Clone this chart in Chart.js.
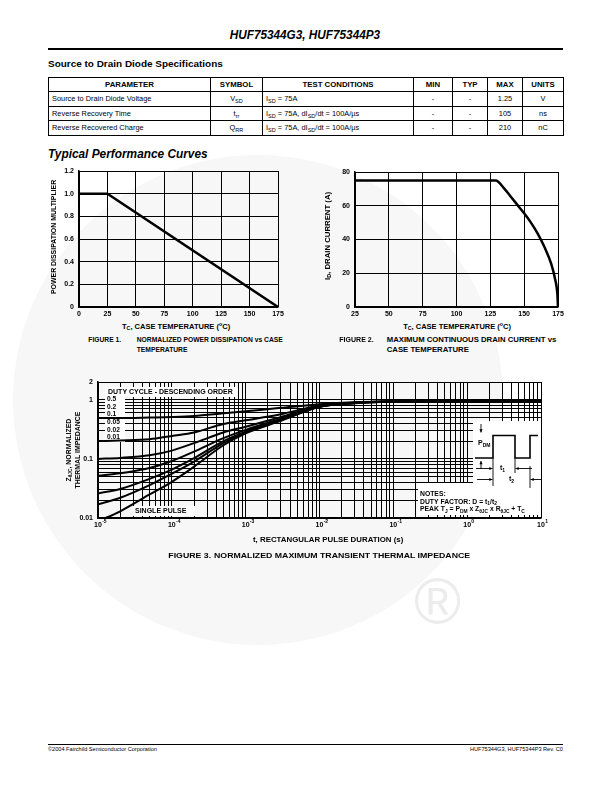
<!DOCTYPE html>
<html>
<head>
<meta charset="utf-8">
<title>HUF75344G3, HUF75344P3</title>
<script src="https://cdn.jsdelivr.net/npm/chart.js@4.4.1/dist/chart.umd.min.js"></script>
<style>
  html, body { margin: 0; padding: 0; background: #fff; }
  body { position: relative; width: 611px; height: 792px; overflow: hidden;
         font-family: 'Liberation Sans', Arial, Helvetica, sans-serif; color: #000; }
  .wm  { position: absolute; left: 13px; top: 155px; width: 490px; height: 490px;
         border-radius: 50%; background: #f7f7f7; }
  .reg { position: absolute; left: 414px; top: 569px; font-size: 64px; line-height: 1; color: #ececec; }
  canvas { position: absolute; }
  .tx { position: absolute; left: 0; top: 0; white-space: nowrap; line-height: 1;
        font-weight: bold; transform-origin: 0 0; }
  .tx sub, .tx sup { font-size: 70%; line-height: 0; }
  .tx sub { vertical-align: -0.25em; }
  .tx sup { vertical-align: 0.5em; }
  .it { font-style: italic; }
  .nb { font-weight: normal; }
  .rule { position: absolute; background: #000; }

  table.spec { position: absolute; left: 48px; top: 77px; width: 515px;
               border-collapse: collapse; table-layout: fixed; font-size: 7.4px;
               border: 1.5px solid #000; }
  table.spec th, table.spec td { border: 1px solid #000; padding: 0 3px; white-space: nowrap; line-height: 1; }
  table.spec th { font-weight: bold; font-size: 7.8px; text-align: center; height: 13px; }
  table.spec td { height: 13.5px; text-align: center; }
  table.spec td.l { text-align: left; }
  table.spec sub { font-size: 75%; vertical-align: -0.3em; line-height: 0; }
</style>
</head>
<body>
<div class="wm"></div>
<div class="reg">&reg;</div>

<!-- page header -->
<div class="tx it" style="font-size:12px" data-x="304.7" data-y="35" data-al="c" data-w="150">HUF75344G3, HUF75344P3</div>
<div class="rule" style="left:48px; top:48px; width:515px; height:1.5px"></div>
<div class="tx" style="font-size:9.5px" data-x="48" data-y="64" data-w="175">Source to Drain Diode Specifications</div>

<table class="spec">
  <colgroup>
    <col style="width:162px"><col style="width:52px"><col style="width:151px">
    <col style="width:39px"><col style="width:35px"><col style="width:35px"><col style="width:41px">
  </colgroup>
  <tr><th>PARAMETER</th><th>SYMBOL</th><th>TEST CONDITIONS</th><th>MIN</th><th>TYP</th><th>MAX</th><th>UNITS</th></tr>
  <tr><td class="l">Source to Drain Diode Voltage</td><td>V<sub>SD</sub></td><td class="l">I<sub>SD</sub> = 75A</td><td>-</td><td>-</td><td>1.25</td><td>V</td></tr>
  <tr><td class="l">Reverse Recovery Time</td><td>t<sub>rr</sub></td><td class="l">I<sub>SD</sub> = 75A, dI<sub>SD</sub>/dt = 100A/&micro;s</td><td>-</td><td>-</td><td>105</td><td>ns</td></tr>
  <tr><td class="l">Reverse Recovered Charge</td><td>Q<sub>RR</sub></td><td class="l">I<sub>SD</sub> = 75A, dI<sub>SD</sub>/dt = 100A/&micro;s</td><td>-</td><td>-</td><td>210</td><td>nC</td></tr>
</table>

<div class="tx it" style="font-size:12px" data-x="48" data-y="154" data-w="160">Typical Performance Curves</div>

<!-- figure 1 -->
<canvas id="fig1" width="250" height="160" style="left:40px; top:160px"></canvas>
<div class="tx" style="font-size:6.8px" data-x="54.5" data-y="237" data-al="c" data-rot="1" data-w="114">POWER DISSIPATION MULTIPLIER</div>
<div class="tx" style="font-size:7.4px" data-x="176" data-y="326.5" data-al="c" data-w="108">T<sub>C</sub>, CASE TEMPERATURE (<sup>o</sup>C)</div>
<div class="tx" style="font-size:7.8px" data-x="88.3" data-y="339.5" data-s="0.86">FIGURE 1.</div>
<div class="tx" style="font-size:7.8px" data-x="136.7" data-y="339.5" data-w="146" id="cap1">NORMALIZED POWER DISSIPATION vs CASE</div>
<div class="tx" style="font-size:7.8px" data-x="136.7" data-y="349.5" data-like="cap1">TEMPERATURE</div>

<!-- figure 2 -->
<canvas id="fig2" width="250" height="160" style="left:320px; top:160px"></canvas>
<div class="tx" style="font-size:7.6px" data-x="327.5" data-y="236" data-al="c" data-rot="1" data-w="88">I<sub>D</sub>, DRAIN CURRENT (A)</div>
<div class="tx" style="font-size:7.4px" data-x="457" data-y="326" data-al="c" data-w="107.7">T<sub>C</sub>, CASE TEMPERATURE (<sup>o</sup>C)</div>
<div class="tx" style="font-size:7.8px" data-x="339.3" data-y="339.5" data-s="0.9">FIGURE 2.</div>
<div class="tx" style="font-size:7.8px" data-x="386.7" data-y="339.5" data-w="170" id="cap2">MAXIMUM CONTINUOUS DRAIN CURRENT vs</div>
<div class="tx" style="font-size:7.8px" data-x="386.7" data-y="349.5" data-like="cap2">CASE TEMPERATURE</div>

<!-- figure 3 -->
<canvas id="fig3" width="520" height="165" style="left:40px; top:372px"></canvas>
<div class="tx" style="font-size:6.9px" data-x="69.5" data-y="450" data-al="c" data-rot="1">Z<sub>&theta;JC</sub>, NORMALIZED</div>
<div class="tx" style="font-size:6.9px" data-x="78" data-y="450" data-al="c" data-rot="1">THERMAL IMPEDANCE</div>
<div class="tx" style="font-size:7.6px" data-x="328" data-y="540" data-al="c" data-w="150">t, RECTANGULAR PULSE DURATION (s)</div>
<div class="tx" style="font-size:7.8px" data-x="214" data-y="555.5" data-w="256" id="cap3">NORMALIZED MAXIMUM TRANSIENT THERMAL IMPEDANCE</div>
<div class="tx" style="font-size:7.8px" data-x="168.3" data-y="555.5" data-like="cap3">FIGURE 3.</div>

<!-- footer -->
<div class="rule" style="left:48px; top:744px; width:515px; height:1.2px"></div>
<div class="tx nb" style="font-size:5.6px" data-x="48" data-y="749.5">&copy;2004 Fairchild Semiconductor Corporation</div>
<div class="tx nb" style="font-size:5.6px" data-x="563" data-y="749.5" data-al="r">HUF75344G3, HUF75344P3 Rev. C0</div>

<script>
// ── Dados ───────────────────────────────────────────────
// Fig. 1: multiplicador de potência vs TC
var FIG1_TC   = [0, 25, 175];
var FIG1_MULT = [1.0, 1.0, 0.0];

// Fig. 2: corrente de dreno máxima vs TC
var FIG2_TC = [25, 129, 135, 140, 145, 150, 155, 160, 165, 170, 173, 174.5, 175];
var FIG2_ID = [75, 75, 70.5, 65.5, 60.5, 55.5, 50, 43.5, 35.5, 25.5, 16, 8, 0];

// Fig. 3: impedância térmica transiente normalizada
var FIG3_T   = [1e-5, 2e-5, 5e-5, 1e-4, 2e-4, 5e-4, 1e-3, 3e-3, 1e-2, 3e-2, 1e-1, 1, 10];
var Z_D050   = [0.49, 0.49, 0.50, 0.51, 0.53, 0.59, 0.64, 0.73, 0.84, 0.91, 0.94, 0.96, 0.96];
var Z_D020   = [0.20, 0.205, 0.215, 0.245, 0.28, 0.39, 0.45, 0.57, 0.80, 0.90, 0.94, 0.96, 0.96];
var Z_D010   = [0.10, 0.104, 0.115, 0.138, 0.185, 0.28, 0.35, 0.51, 0.78, 0.89, 0.935, 0.96, 0.96];
var Z_D005   = [0.052, 0.057, 0.07, 0.092, 0.133, 0.225, 0.31, 0.48, 0.77, 0.885, 0.935, 0.96, 0.96];
var Z_D002   = [0.026, 0.031, 0.046, 0.066, 0.103, 0.20, 0.29, 0.46, 0.765, 0.88, 0.93, 0.96, 0.96];
var Z_D001   = [0.017, 0.022, 0.036, 0.056, 0.09, 0.185, 0.28, 0.45, 0.76, 0.88, 0.93, 0.96, 0.96];
var Z_SINGLE = [0.0088, 0.013, 0.025, 0.041, 0.074, 0.17, 0.27, 0.44, 0.76, 0.875, 0.93, 0.96, 0.96];
var FIG3_SERIES = [Z_D050, Z_D020, Z_D010, Z_D005, Z_D002, Z_D001, Z_SINGLE];
var FIG3_DUTY   = ['0.5', '0.2', '0.1', '0.05', '0.02', '0.01'];

// Escalas / rótulos
var FIG3_X_DECADES = [-5, -4, -3, -2, -1, 0, 1];
var FIG3_Y_LABELS  = [0.01, 0.1, 1, 2];

var FONTE = "'Liberation Sans', Arial, Helvetica, sans-serif";
Chart.defaults.font.family = FONTE;
Chart.defaults.font.size   = 7;
Chart.defaults.font.weight = 'bold';
Chart.defaults.color       = '#000';

function pares(xs, ys) {
  var out = [];
  for (var i = 0; i < xs.length; i++) out.push({ x: xs[i], y: ys[i] });
  return out;
}

function linha(xs, ys, w) {
  return { data: pares(xs, ys), borderColor: '#000', borderWidth: w, pointRadius: 0,
           fill: false, cubicInterpolationMode: 'monotone' };
}

function grade() { return { color: '#000', lineWidth: 1, drawTicks: false }; }
function borda() { return { color: '#000', width: 1.5 }; }

function opcoesBase(pad) {
  return {
    responsive: false, animation: false, devicePixelRatio: 1, events: [],
    layout: { padding: pad },
    plugins: { legend: { display: false }, tooltip: { enabled: false } }
  };
}

// ── FIGURA 1 ────────────────────────────────────────────
var op1 = opcoesBase({ top: 11, right: 12, bottom: 0, left: 0 });
op1.scales = {
  x: { type: 'linear', min: 0, max: 175, grid: grade(), border: borda(),
       ticks: { stepSize: 25, padding: 3, maxRotation: 0, autoSkip: false },
       afterFit: function(s) { s.height = 13; } },
  y: { type: 'linear', min: 0, max: 1.2, grid: grade(), border: borda(),
       ticks: { stepSize: 0.2, padding: 5, autoSkip: false,
                callback: function(v) { return v === 0 ? '0' : v.toFixed(1); } },
       afterFit: function(s) { s.width = 39; } }
};
new Chart(document.getElementById('fig1'), {
  type: 'line',
  data: { datasets: [Object.assign(linha(FIG1_TC, FIG1_MULT, 2.5), { cubicInterpolationMode: 'default', tension: 0 })] },
  options: op1
});

// ── FIGURA 2 ────────────────────────────────────────────
var op2 = opcoesBase({ top: 12, right: 12, bottom: 0, left: 0 });
op2.scales = {
  x: { type: 'linear', min: 25, max: 175, grid: grade(), border: borda(),
       ticks: { stepSize: 25, padding: 3, maxRotation: 0, autoSkip: false },
       afterFit: function(s) { s.height = 13; } },
  y: { type: 'linear', min: 0, max: 80, grid: grade(), border: borda(),
       ticks: { stepSize: 20, padding: 5, autoSkip: false },
       afterFit: function(s) { s.width = 35; } }
};
new Chart(document.getElementById('fig2'), {
  type: 'line',
  data: { datasets: [linha(FIG2_TC, FIG2_ID, 2.5)] },
  options: op2
});

// ── FIGURA 3 ────────────────────────────────────────────
function gradeLog(decIni, decFim, extra) {
  var v = [];
  for (var e = decIni; e < decFim; e++) {
    for (var m = 1; m <= 9; m++) v.push(m * Math.pow(10, e));
  }
  v.push(Math.pow(10, decFim));
  return v.concat(extra || []);
}

function ehDecada(v) {
  var l = Math.log10(v);
  return Math.abs(l - Math.round(l)) < 1e-6;
}

function richText(ctx, x, y, partes, tam) {
  ctx.textAlign = 'left';
  ctx.textBaseline = 'middle';
  var cx = x;
  for (var i = 0; i < partes.length; i++) {
    var p = partes[i];
    var s = p[1] ? tam * 0.72 : tam;
    var dy = p[1] === 'sub' ? tam * 0.32 : (p[1] === 'sup' ? -tam * 0.36 : 0);
    ctx.font = 'bold ' + s + 'px ' + FONTE;
    ctx.fillText(p[0], cx, y + dy);
    cx += ctx.measureText(p[0]).width;
  }
}

function seta(ctx, x1, y1, x2, y2) {
  var a = Math.atan2(y2 - y1, x2 - x1), h = 3.2;
  ctx.beginPath(); ctx.moveTo(x1, y1); ctx.lineTo(x2, y2); ctx.stroke();
  ctx.beginPath();
  ctx.moveTo(x2, y2);
  ctx.lineTo(x2 - h * Math.cos(a) + 1.6 * Math.sin(a), y2 - h * Math.sin(a) - 1.6 * Math.cos(a));
  ctx.lineTo(x2 - h * Math.cos(a) - 1.6 * Math.sin(a), y2 - h * Math.sin(a) + 1.6 * Math.cos(a));
  ctx.closePath(); ctx.fill();
}

var notasFig3 = {
  id: 'notasFig3',
  beforeDatasetsDraw: function(chart) {
    var ctx = chart.ctx, a = chart.chartArea;
    ctx.save();
    ctx.fillStyle = '#fff';
    ctx.fillRect(a.left + 7, a.top + 5, 132, 10);
    ctx.fillRect(a.left + 7, a.top + 14, 20, 46);
    ctx.fillRect(a.left + 35, a.bottom - 12, 62, 10);
    ctx.fillStyle = '#000';
    richText(ctx, a.left + 10, a.top + 10.5, [['DUTY CYCLE - DESCENDING ORDER']], 7);
    for (var i = 0; i < FIG3_DUTY.length; i++) {
      richText(ctx, a.left + 9, a.top + 17 + i * 7.7, [[FIG3_DUTY[i]]], 6.6);
    }
    richText(ctx, a.left + 37, a.bottom - 7, [['SINGLE PULSE']], 7);
    ctx.restore();
  },
  afterDatasetsDraw: function(chart) {
    var ctx = chart.ctx, a = chart.chartArea, r = a.right, b = a.bottom;
    ctx.save();
    ctx.fillStyle = '#fff';
    ctx.fillRect(r - 68, b - 97, 68, 63);
    ctx.fillRect(r - 123, b - 35, 123, 32);
    ctx.strokeStyle = '#000'; ctx.fillStyle = '#000';
    // forma de onda do pulso
    ctx.lineWidth = 1.6;
    ctx.beginPath();
    ctx.moveTo(r - 66, b - 60); ctx.lineTo(r - 48, b - 60); ctx.lineTo(r - 48, b - 82.5);
    ctx.lineTo(r - 26, b - 82.5); ctx.lineTo(r - 26, b - 60); ctx.lineTo(r - 11, b - 60);
    ctx.lineTo(r - 11, b - 82.5); ctx.lineTo(r - 3, b - 82.5);
    ctx.stroke();
    // cotas
    ctx.lineWidth = 0.9;
    ctx.beginPath();
    ctx.moveTo(r - 48, b - 60); ctx.lineTo(r - 48, b - 32);
    ctx.moveTo(r - 26, b - 60); ctx.lineTo(r - 26, b - 45);
    ctx.moveTo(r - 11, b - 52); ctx.lineTo(r - 11, b - 30);
    ctx.stroke();
    seta(ctx, r - 60, b - 94, r - 60, b - 85.5);
    seta(ctx, r - 60, b - 49, r - 60, b - 57);
    seta(ctx, r - 65, b - 49.5, r - 48.5, b - 49.5);
    seta(ctx, r - 9, b - 49.5, r - 25.5, b - 49.5);
    seta(ctx, r - 64, b - 38.5, r - 48.5, b - 38.5);
    seta(ctx, r + 0, b - 38.5, r - 10.5, b - 38.5);
    richText(ctx, r - 63, b - 75, [['P'], ['DM', 'sub']], 7);
    richText(ctx, r - 41, b - 50, [['t'], ['1', 'sub']], 7);
    richText(ctx, r - 32, b - 39, [['t'], ['2', 'sub']], 7);
    // notas
    richText(ctx, r - 121, b - 23.5, [['NOTES:']], 6.8);
    richText(ctx, r - 121, b - 16.3, [['DUTY FACTOR: D = t'], ['1', 'sub'], ['/t'], ['2', 'sub']], 6.8);
    richText(ctx, r - 121, b - 9, [['PEAK T'], ['J', 'sub'], [' = P'], ['DM', 'sub'], [' x Z'], ['\u03B8JC', 'sub'],
                                   [' x R'], ['\u03B8JC', 'sub'], [' + T'], ['C', 'sub']], 6.8);
    ctx.restore();
  },
  // expoentes dos rótulos do eixo x (10^n): o "10" vem do próprio eixo
  afterDraw: function(chart) {
    var ctx = chart.ctx, sx = chart.scales.x;
    ctx.save();
    ctx.fillStyle = '#000';
    ctx.font = 'bold 7px ' + FONTE;
    var meio = ctx.measureText('10').width / 2;
    var yRot = sx.top + 3 + 3.5;
    for (var i = 0; i < FIG3_X_DECADES.length; i++) {
      var d = FIG3_X_DECADES[i];
      var px = sx.getPixelForValue(Math.pow(10, d));
      richText(ctx, px + meio + 0.3, yRot, [[String(d), 'sup']], 7);
    }
    ctx.restore();
  }
};

var op3 = opcoesBase({ top: 10, right: 19, bottom: 0, left: 0 });
op3.scales = {
  x: { type: 'logarithmic', min: 1e-5, max: 10, grid: grade(), border: borda(),
       afterBuildTicks: function(s) {
         s.ticks = gradeLog(FIG3_X_DECADES[0], FIG3_X_DECADES[FIG3_X_DECADES.length - 1])
           .map(function(v) { return { value: v }; });
       },
       ticks: { padding: 3, maxRotation: 0, autoSkip: false,
                callback: function(v) { return ehDecada(v) ? '10' : ''; } },
       afterFit: function(s) { s.height = 19; } },
  y: { type: 'logarithmic', min: 0.01, max: 2, grid: grade(), border: borda(),
       afterBuildTicks: function(s) {
         s.ticks = gradeLog(-2, 0, [2]).map(function(v) { return { value: v }; });
       },
       ticks: { padding: 5, autoSkip: false,
                callback: function(v) {
                  for (var i = 0; i < FIG3_Y_LABELS.length; i++) {
                    if (Math.abs(v - FIG3_Y_LABELS[i]) < 1e-9) return String(FIG3_Y_LABELS[i]);
                  }
                  return '';
                } },
       afterFit: function(s) { s.width = 58; } }
};
new Chart(document.getElementById('fig3'), {
  type: 'line',
  data: { datasets: FIG3_SERIES.map(function(z) { return linha(FIG3_T, z, 2); }) },
  options: op3,
  plugins: [notasFig3]
});

// ── Posicionamento dos textos HTML ──────────────────────
var escalas = {};
var textos = document.querySelectorAll('.tx');
for (var i = 0; i < textos.length; i++) {
  var el = textos[i];
  var w = el.offsetWidth, h = el.offsetHeight;
  var s = 1;
  if (el.dataset.w) s = parseFloat(el.dataset.w) / w;
  if (el.dataset.s) s = parseFloat(el.dataset.s);
  if (el.dataset.like) s = escalas[el.dataset.like];
  if (el.id) escalas[el.id] = s;
  var x = parseFloat(el.dataset.x), y = parseFloat(el.dataset.y);
  var al = el.dataset.al || 'l';
  if (el.dataset.rot) {
    el.style.transform = 'translate(' + (x - h / 2) + 'px,' + (y + w * s / 2) + 'px) rotate(-90deg) scaleX(' + s + ')';
  } else {
    var dx = al === 'c' ? w * s / 2 : (al === 'r' ? w * s : 0);
    el.style.transform = 'translate(' + (x - dx) + 'px,' + (y - h / 2) + 'px) scaleX(' + s + ')';
  }
}
</script>
</body>
</html>
